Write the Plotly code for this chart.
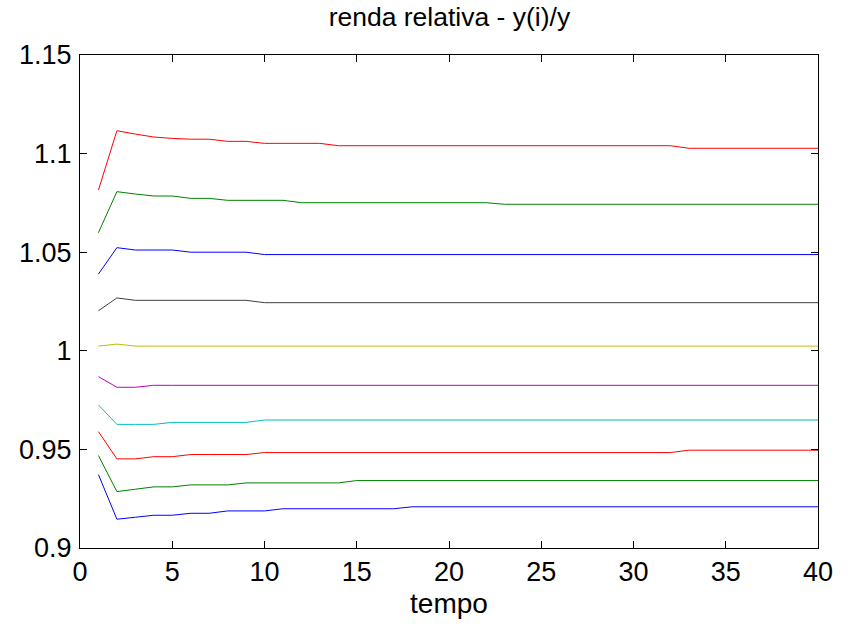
import plotly.graph_objects as go

tempo = list(range(1, 41))

s01_blue = [0.9372, 0.9146, 0.9156, 0.9166, 0.9166, 0.9176, 0.9176] + [0.9188] * 3 + [0.9199] * 7 + [0.9209] * 23
s02_green = [0.9469, 0.9286, 0.9298, 0.9310, 0.9310] + [0.9320] * 3 + [0.9330] * 6 + [0.9342] * 26
s03_red = [0.9590, 0.9452, 0.9452, 0.9463, 0.9463] + [0.9474] * 4 + [0.9484] * 23 + [0.9496] * 8
s04_cyan = [0.9725, 0.9627, 0.9627, 0.9627] + [0.9637] * 5 + [0.9649] * 31
s05_magenta = [0.9869, 0.9815, 0.9815] + [0.9825] * 37
s06_yellow = [1.0024, 1.0034] + [1.0024] * 38
s07_black = [1.0203, 1.0268] + [1.0256] * 7 + [1.0244] * 31
s08_blue = [1.0389, 1.0523, 1.0511, 1.0511, 1.0511] + [1.0500] * 4 + [1.0488] * 31
s09_green = [1.0599, 1.0807, 1.0795, 1.0785, 1.0785, 1.0773, 1.0773, 1.0763, 1.0763, 1.0763, 1.0763] + [1.0751] * 11 + [1.0743] * 18
s10_red = [1.0815, 1.1116, 1.1099, 1.1084, 1.1077, 1.1073, 1.1073, 1.1062, 1.1062,
           1.1052, 1.1052, 1.1052, 1.1052] + [1.1040] * 19 + [1.1027] * 8

series = [s01_blue, s02_green, s03_red, s04_cyan, s05_magenta,
          s06_yellow, s07_black, s08_blue, s09_green, s10_red]
colors = ["#0000FF", "#008000", "#FF0000", "#00BFBF", "#BF00BF",
          "#BFBF00", "#404040", "#0000FF", "#008000", "#FF0000"]

x_ticks = [0, 5, 10, 15, 20, 25, 30, 35, 40]
y_ticks = [0.9, 0.95, 1.0, 1.05, 1.1, 1.15]
y_tick_text = ["0.9", "0.95", "1", "1.05", "1.1", "1.15"]

fig = go.Figure()
for s, c in zip(series, colors):
    fig.add_trace(go.Scatter(x=tempo, y=s, mode="lines",
                             line=dict(color=c, width=1), showlegend=False,
                             hoverinfo="skip"))

font = "Liberation Sans, Arial, Helvetica, sans-serif"
axis_common = dict(showgrid=False, zeroline=False, showline=True, linecolor="black",
                   linewidth=1, mirror="ticks", ticks="inside", ticklen=7,
                   tickcolor="black", tickwidth=1,
                   tickfont=dict(family=font, size=27, color="black"))

fig.update_layout(
    width=856, height=627,
    margin=dict(l=80, r=38, t=55, b=79),
    paper_bgcolor="white", plot_bgcolor="white",
    title=dict(text="renda relativa - y(i)/y", x=0.525, xanchor="center",
               y=0.973, yanchor="middle",
               font=dict(family=font, size=26.5, color="black")),
    xaxis=dict(range=[0, 40], tickvals=x_ticks,
               title=dict(text="tempo", font=dict(family=font, size=28, color="black"),
                          standoff=6),
               **axis_common),
    yaxis=dict(range=[0.9, 1.15], tickvals=y_ticks, ticktext=y_tick_text,
               ticklabelstandoff=2, **axis_common),
)

fig.write_html("out.html")
